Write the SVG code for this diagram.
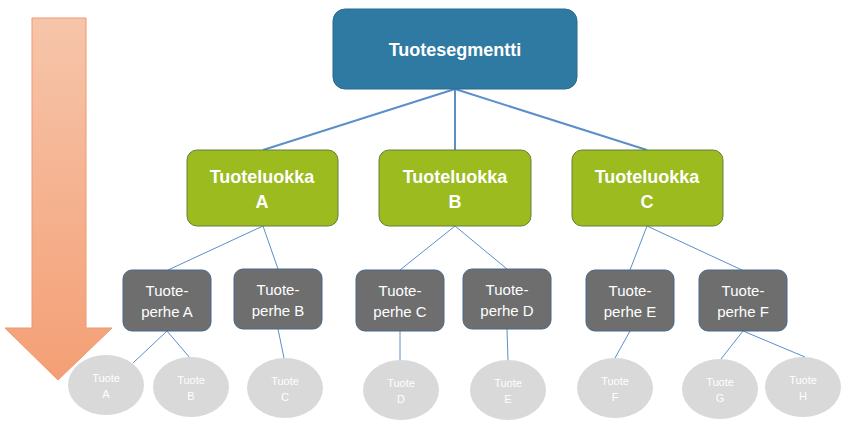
<svg xmlns="http://www.w3.org/2000/svg" width="852" height="431" viewBox="0 0 852 431">
<defs>
<linearGradient id="arrowGrad" x1="0" y1="0" x2="0" y2="1">
<stop offset="0" stop-color="#f6c5aa"/>
<stop offset="1" stop-color="#f49f75"/>
</linearGradient>
</defs>
<style>
.top{fill:#2f7aa3;stroke:#2a6990;stroke-width:1}
.mid{fill:#9bbb1f;stroke:#667f3c;stroke-width:1}
.fam{fill:#6e6e6e;stroke:#45698a;stroke-width:1}
.prod{fill:#d9d9d9}
.tb{font-family:"Liberation Sans",Arial,sans-serif;font-weight:bold;fill:#ffffff;text-anchor:middle;font-size:18px}
.tf{font-family:"Liberation Sans",Arial,sans-serif;fill:#ffffff;text-anchor:middle;font-size:15px}
.tp{font-family:"Liberation Sans",Arial,sans-serif;fill:#ffffff;text-anchor:middle;font-size:11px}
.c1{stroke:#5b8fc9;stroke-width:2;fill:none}
.c2{stroke:#5b8fc9;stroke-width:1;fill:none}
</style>
<polygon id="arrow" points="32,18 86,18 86,328 112,328 58,380 5,328 32,328" fill="url(#arrowGrad)" stroke="#f0976c" stroke-width="1"/>
<g id="connectors">
<line class="c1" x1="455" y1="89" x2="263" y2="150"/>
<line class="c1" x1="455" y1="89" x2="455" y2="150"/>
<line class="c1" x1="455" y1="89" x2="647" y2="150"/>
<line class="c2" x1="263" y1="226" x2="168" y2="270"/>
<line class="c2" x1="263" y1="226" x2="278" y2="269"/>
<line class="c2" x1="455" y1="226" x2="400" y2="270"/>
<line class="c2" x1="455" y1="226" x2="507" y2="269"/>
<line class="c2" x1="647" y1="226" x2="630" y2="270"/>
<line class="c2" x1="647" y1="226" x2="742" y2="270"/>
<line class="c2" x1="167" y1="331" x2="133" y2="363"/>
<line class="c2" x1="167" y1="331" x2="190" y2="358"/>
<line class="c2" x1="278" y1="329" x2="284" y2="358"/>
<line class="c2" x1="400" y1="331" x2="400" y2="360"/>
<line class="c2" x1="507" y1="329" x2="508" y2="360"/>
<line class="c2" x1="630" y1="331" x2="615" y2="358"/>
<line class="c2" x1="743" y1="331" x2="721" y2="359"/>
<line class="c2" x1="743" y1="331" x2="805" y2="357"/>
</g>
<g id="tuotesegmentti">
<rect class="top" x="333" y="9" width="244" height="80" rx="12"/>
<text class="tb" x="455" y="56">Tuotesegmentti</text>
</g>
<g id="luokkaA">
<rect class="mid" x="187" y="150" width="151" height="76" rx="10"/>
<text class="tb" x="262" y="183">Tuoteluokka</text>
<text class="tb" x="262" y="208">A</text>
</g>
<g id="luokkaB">
<rect class="mid" x="379" y="150" width="152" height="76" rx="10"/>
<text class="tb" x="455" y="183">Tuoteluokka</text>
<text class="tb" x="455" y="208">B</text>
</g>
<g id="luokkaC">
<rect class="mid" x="572" y="150" width="151" height="76" rx="10"/>
<text class="tb" x="647" y="183">Tuoteluokka</text>
<text class="tb" x="647" y="208">C</text>
</g>
<g id="perheA">
<rect class="fam" x="123" y="270" width="88" height="61" rx="9"/>
<text class="tf" x="167" y="296">Tuote-</text>
<text class="tf" x="167" y="317">perhe A</text>
</g>
<g id="perheB">
<rect class="fam" x="234" y="269" width="88" height="60" rx="9"/>
<text class="tf" x="278" y="295">Tuote-</text>
<text class="tf" x="278" y="316">perhe B</text>
</g>
<g id="perheC">
<rect class="fam" x="356" y="270" width="88" height="61" rx="9"/>
<text class="tf" x="400" y="296">Tuote-</text>
<text class="tf" x="400" y="317">perhe C</text>
</g>
<g id="perheD">
<rect class="fam" x="463" y="269" width="88" height="60" rx="9"/>
<text class="tf" x="507" y="295">Tuote-</text>
<text class="tf" x="507" y="316">perhe D</text>
</g>
<g id="perheE">
<rect class="fam" x="586" y="270" width="88" height="61" rx="9"/>
<text class="tf" x="630" y="296">Tuote-</text>
<text class="tf" x="630" y="317">perhe E</text>
</g>
<g id="perheF">
<rect class="fam" x="699" y="270" width="88" height="61" rx="9"/>
<text class="tf" x="743" y="296">Tuote-</text>
<text class="tf" x="743" y="317">perhe F</text>
</g>
<g id="tuoteA">
<ellipse class="prod" cx="106" cy="385" rx="38" ry="30"/>
<text class="tp" x="106" y="382">Tuote</text>
<text class="tp" x="106" y="398">A</text>
</g>
<g id="tuoteB">
<ellipse class="prod" cx="191" cy="387" rx="38" ry="30"/>
<text class="tp" x="191" y="384">Tuote</text>
<text class="tp" x="191" y="400">B</text>
</g>
<g id="tuoteC">
<ellipse class="prod" cx="285" cy="388" rx="38" ry="30"/>
<text class="tp" x="285" y="385">Tuote</text>
<text class="tp" x="285" y="401">C</text>
</g>
<g id="tuoteD">
<ellipse class="prod" cx="401" cy="390" rx="38" ry="30"/>
<text class="tp" x="401" y="387">Tuote</text>
<text class="tp" x="401" y="403">D</text>
</g>
<g id="tuoteE">
<ellipse class="prod" cx="508" cy="390" rx="38" ry="30"/>
<text class="tp" x="508" y="387">Tuote</text>
<text class="tp" x="508" y="403">E</text>
</g>
<g id="tuoteF">
<ellipse class="prod" cx="615" cy="388" rx="38" ry="30"/>
<text class="tp" x="615" y="385">Tuote</text>
<text class="tp" x="615" y="401">F</text>
</g>
<g id="tuoteG">
<ellipse class="prod" cx="720" cy="389" rx="38" ry="30"/>
<text class="tp" x="720" y="386">Tuote</text>
<text class="tp" x="720" y="402">G</text>
</g>
<g id="tuoteH">
<ellipse class="prod" cx="803" cy="387" rx="38" ry="30"/>
<text class="tp" x="803" y="384">Tuote</text>
<text class="tp" x="803" y="400">H</text>
</g>
</svg>
